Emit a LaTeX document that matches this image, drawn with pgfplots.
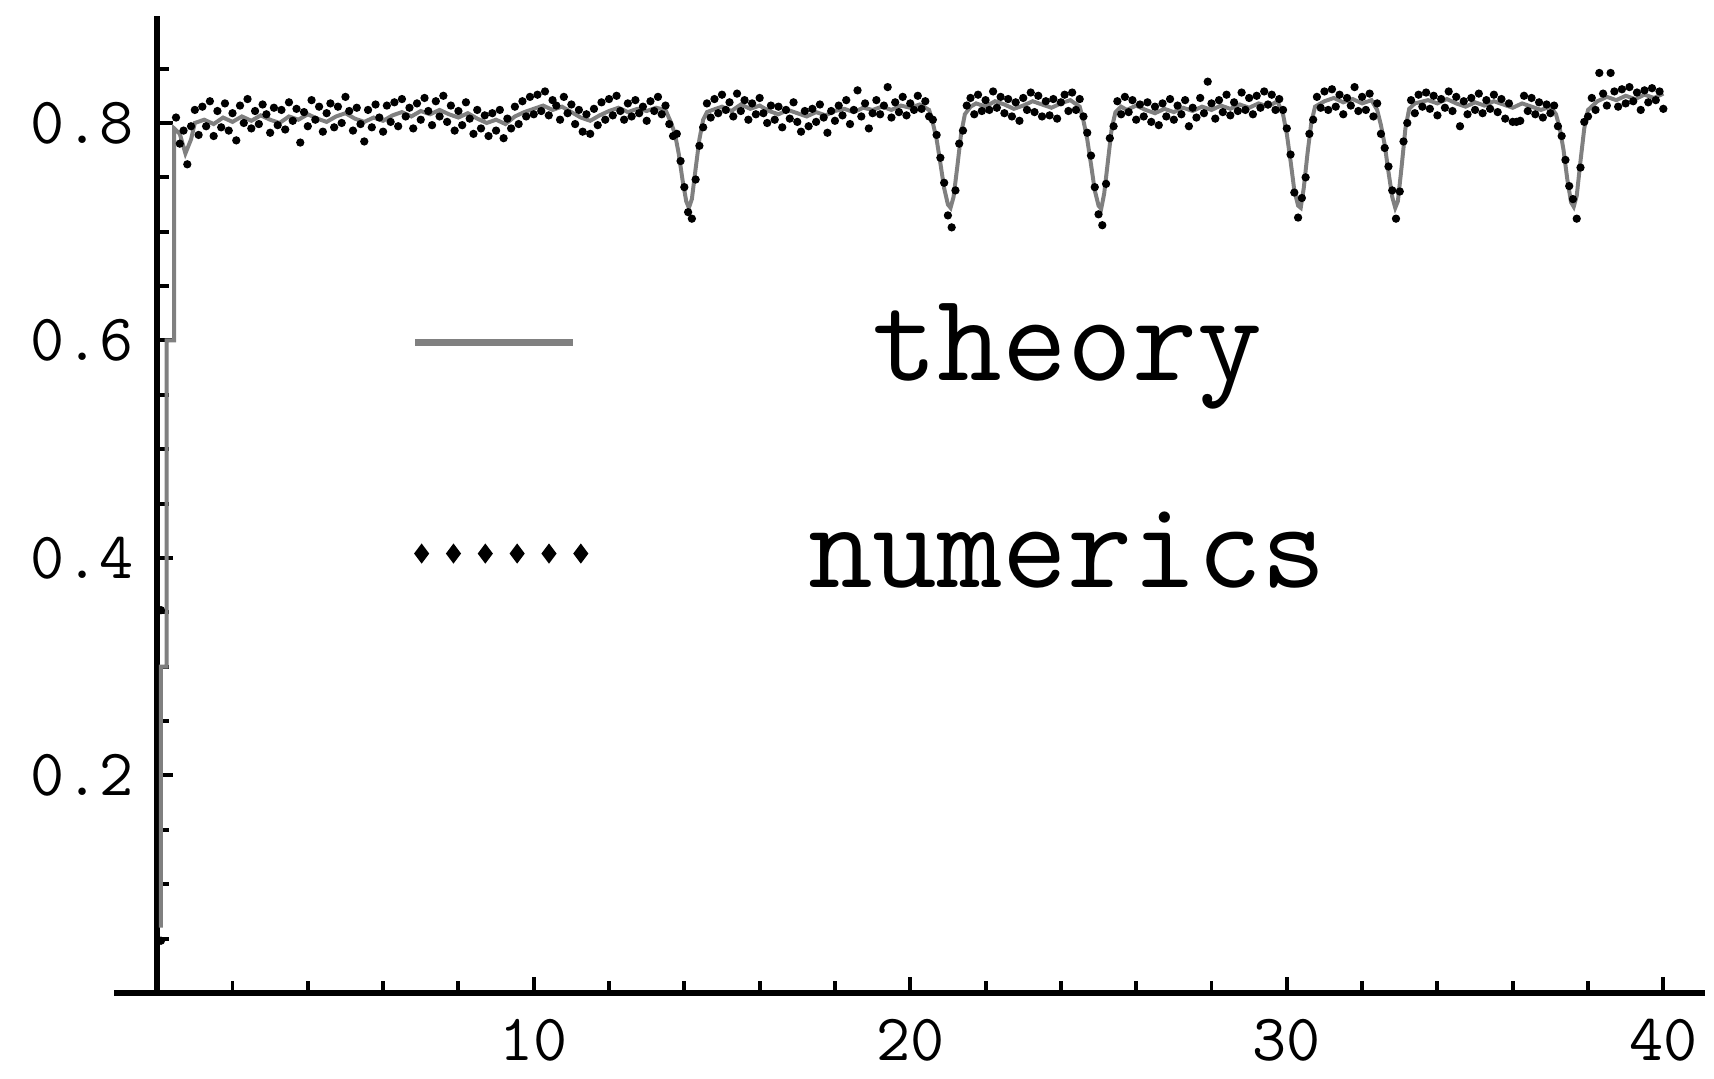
\documentclass[border=0pt]{standalone}
\usepackage{pgfplots}
\pgfplotsset{compat=1.18}

\begin{document}
\begin{tikzpicture}
\begin{axis}[
  at={(0pt,0pt)}, anchor=origin,
  scale only axis, width=319.8pt, height=196.3pt,
  xmin=-1.14, xmax=41.11, ymin=0, ymax=0.898,
  axis x line=bottom, axis y line=middle,
  axis line style={line width=1.1pt, -},
  tick align=inside,
  xtick={10,20,30,40}, xticklabels={10,20,30,40},
  minor xtick={2,4,6,8,12,14,16,18,22,24,26,28,32,34,36,38},
  ytick={0.2,0.4,0.6,0.8}, yticklabels={0.2,0.4,0.6,0.8},
  minor ytick={0.05,0.1,0.15,0.25,0.3,0.35,0.45,0.5,0.55,0.65,0.7,0.75,0.85},
  major tick length=3.2pt, minor tick length=2.4pt,
  every tick/.style={black, line width=0.8pt},
  tick label style={font=\fontsize{13.3}{16}\selectfont\ttfamily},
  xticklabel style={yshift=-1.8pt},
  yticklabel style={xshift=-1.3pt},
  legend style={at={(0.1865,0.5568)}, anchor=west, draw=none, fill=none,
    inner sep=0pt, row sep=21pt,
    font=\fontsize{25.3}{30}\selectfont\ttfamily,
    nodes={inner sep=2pt, text depth=0.15em}},
  legend cell align=center,
]
% exact solution
\addplot[black!50, line width=0.8pt,
  legend image code/.code={
    \path[draw=none, fill=none] (0pt,0pt) -- (77pt,0pt);
    \draw[black!50, line width=1.3pt] (0pt,0.6pt) -- (31.7pt,0.6pt);}]
table {
x y
0.10 0.060
0.10 0.300
0.25 0.300
0.25 0.600
0.45 0.600
0.45 0.795
0.60 0.790
0.75 0.772
0.90 0.785
1.00 0.800
1.25 0.803
1.50 0.799
1.75 0.805
2.00 0.801
2.25 0.806
2.50 0.802
2.75 0.807
3.00 0.803
3.25 0.800
3.50 0.806
3.75 0.803
4.00 0.808
4.25 0.804
4.50 0.801
4.75 0.806
5.00 0.809
5.25 0.804
5.50 0.801
5.75 0.805
6.00 0.802
6.25 0.807
6.50 0.810
6.75 0.806
7.00 0.811
7.25 0.808
7.50 0.812
7.75 0.808
8.00 0.805
8.25 0.809
8.50 0.804
8.75 0.800
9.00 0.803
9.25 0.799
9.50 0.806
9.75 0.810
10.00 0.813
10.25 0.816
10.50 0.812
10.75 0.815
11.00 0.810
11.25 0.805
11.50 0.802
11.75 0.807
12.00 0.811
12.25 0.814
12.50 0.810
12.75 0.813
13.00 0.811
13.25 0.814
13.50 0.812
13.65 0.800
13.75 0.790
13.85 0.772
13.95 0.748
14.05 0.728
14.12 0.722
14.20 0.730
14.30 0.758
14.40 0.785
14.50 0.803
14.60 0.810
14.75 0.812
15.00 0.815
15.25 0.811
15.50 0.817
15.75 0.813
16.00 0.816
16.25 0.811
16.50 0.808
16.75 0.812
17.00 0.809
17.25 0.806
17.50 0.810
17.75 0.807
18.00 0.811
18.25 0.813
18.50 0.810
18.75 0.814
19.00 0.812
19.25 0.815
19.50 0.812
19.75 0.816
20.00 0.814
20.25 0.817
20.50 0.812
20.60 0.800
20.70 0.785
20.80 0.763
20.90 0.740
21.00 0.725
21.07 0.722
21.15 0.732
21.25 0.760
21.35 0.790
21.45 0.808
21.60 0.815
21.75 0.818
22.00 0.815
22.25 0.820
22.50 0.817
22.75 0.813
23.00 0.816
23.25 0.820
23.50 0.817
23.75 0.814
24.00 0.818
24.25 0.821
24.50 0.815
24.60 0.802
24.70 0.785
24.80 0.762
24.90 0.738
25.00 0.724
25.07 0.721
25.15 0.735
25.25 0.765
25.35 0.795
25.45 0.810
25.60 0.815
25.75 0.812
26.00 0.816
26.25 0.812
26.50 0.809
26.75 0.813
27.00 0.810
27.25 0.814
27.50 0.811
27.75 0.815
28.00 0.812
28.25 0.816
28.50 0.813
28.75 0.817
29.00 0.814
29.25 0.818
29.50 0.815
29.75 0.820
29.90 0.808
30.00 0.790
30.10 0.765
30.20 0.738
30.30 0.724
30.37 0.722
30.45 0.740
30.55 0.772
30.65 0.800
30.75 0.815
31.00 0.820
31.25 0.823
31.50 0.819
31.75 0.822
32.00 0.818
32.25 0.821
32.40 0.812
32.50 0.798
32.60 0.780
32.70 0.755
32.80 0.732
32.88 0.722
32.95 0.728
33.05 0.760
33.15 0.795
33.25 0.813
33.40 0.818
33.75 0.821
34.00 0.818
34.25 0.822
34.50 0.818
34.75 0.815
35.00 0.819
35.25 0.816
35.50 0.820
35.75 0.817
36.00 0.814
36.25 0.818
36.50 0.815
36.75 0.812
37.00 0.815
37.15 0.808
37.25 0.795
37.35 0.775
37.45 0.748
37.55 0.727
37.62 0.723
37.70 0.733
37.80 0.765
37.90 0.795
38.00 0.812
38.25 0.820
38.50 0.824
38.75 0.821
39.00 0.825
39.25 0.822
39.50 0.826
39.75 0.823
40.00 0.827
};
\addlegendentry{theory}
% simulation samples
\addplot[only marks, mark=*, mark size=0.62pt, mark options={black, fill=black, draw=none},
  legend image code/.code={
    \path[draw=none, fill=none] (0pt,0pt) -- (77pt,0pt);
    \path plot[only marks, mark=diamond*, mark size=1.7pt, mark options={fill=black, draw=none}]
      coordinates {(1.3pt,0pt) (7.7pt,0pt) (14.1pt,0pt) (20.5pt,0pt) (26.9pt,0pt) (33.3pt,0pt)};}]
table {
x y
0.1 0.048
0.1 0.352
0.5 0.805
0.6 0.781
0.7 0.793
0.8 0.762
0.9 0.797
1.0 0.812
1.1 0.789
1.2 0.815
1.3 0.797
1.4 0.820
1.5 0.788
1.6 0.811
1.7 0.796
1.8 0.818
1.9 0.793
2.0 0.809
2.1 0.784
2.2 0.816
2.3 0.800
2.4 0.822
2.5 0.795
2.6 0.811
2.7 0.799
2.8 0.817
2.9 0.808
3.0 0.791
3.1 0.814
3.2 0.798
3.3 0.812
3.4 0.794
3.5 0.819
3.6 0.802
3.7 0.813
3.8 0.782
3.9 0.810
4.0 0.797
4.1 0.821
4.2 0.803
4.3 0.815
4.4 0.792
4.5 0.809
4.6 0.818
4.7 0.796
4.8 0.815
4.9 0.800
5.0 0.824
5.1 0.811
5.2 0.793
5.3 0.814
5.4 0.799
5.5 0.783
5.6 0.812
5.7 0.796
5.8 0.817
5.9 0.805
6.0 0.792
6.1 0.816
6.2 0.801
6.3 0.819
6.4 0.797
6.5 0.822
6.6 0.806
6.7 0.814
6.8 0.795
6.9 0.818
7.0 0.803
7.1 0.823
7.2 0.811
7.3 0.798
7.4 0.820
7.5 0.806
7.6 0.825
7.7 0.801
7.8 0.816
7.9 0.793
8.0 0.811
8.1 0.798
8.2 0.819
8.3 0.804
8.4 0.790
8.5 0.812
8.6 0.795
8.7 0.807
8.8 0.788
8.9 0.809
9.0 0.793
9.1 0.812
9.2 0.786
9.3 0.804
9.4 0.795
9.5 0.815
9.6 0.799
9.7 0.820
9.8 0.806
9.9 0.824
10.0 0.808
10.1 0.826
10.2 0.811
10.3 0.829
10.4 0.807
10.5 0.821
10.6 0.816
10.7 0.803
10.8 0.824
10.9 0.809
11.0 0.817
11.1 0.799
11.2 0.812
11.3 0.792
11.4 0.808
11.5 0.790
11.6 0.813
11.7 0.798
11.8 0.819
11.9 0.803
12.0 0.822
12.1 0.807
12.2 0.825
12.3 0.811
12.4 0.803
12.5 0.818
12.6 0.806
12.7 0.821
12.8 0.809
12.9 0.815
13.0 0.802
13.1 0.820
13.2 0.811
13.3 0.824
13.4 0.808
13.5 0.816
13.6 0.799
13.7 0.788
13.8 0.790
13.9 0.765
14.0 0.741
14.1 0.718
14.2 0.712
14.3 0.748
14.4 0.779
14.5 0.796
14.6 0.818
14.7 0.805
14.8 0.822
14.9 0.809
15.0 0.826
15.1 0.812
15.2 0.819
15.3 0.806
15.4 0.827
15.5 0.811
15.6 0.821
15.7 0.803
15.8 0.818
15.9 0.808
16.0 0.823
16.1 0.809
16.2 0.800
16.3 0.816
16.4 0.803
16.5 0.815
16.6 0.796
16.7 0.812
16.8 0.804
16.9 0.819
17.0 0.801
17.1 0.792
17.2 0.811
17.3 0.797
17.4 0.813
17.5 0.801
17.6 0.817
17.7 0.805
17.8 0.791
17.9 0.811
18.0 0.802
18.1 0.816
18.2 0.807
18.3 0.821
18.4 0.799
18.5 0.812
18.6 0.830
18.7 0.806
18.8 0.818
18.9 0.795
19.0 0.809
19.1 0.821
19.2 0.808
19.3 0.816
19.4 0.833
19.5 0.805
19.6 0.819
19.7 0.810
19.8 0.824
19.9 0.807
20.0 0.818
20.1 0.812
20.2 0.825
20.3 0.813
20.4 0.820
20.5 0.806
20.6 0.803
20.7 0.789
20.8 0.768
20.9 0.745
21.0 0.715
21.1 0.704
21.2 0.738
21.3 0.781
21.4 0.793
21.5 0.816
21.6 0.823
21.7 0.808
21.8 0.826
21.9 0.811
22.0 0.821
22.1 0.812
22.2 0.829
22.3 0.814
22.4 0.824
22.5 0.809
22.6 0.822
22.7 0.806
22.8 0.819
22.9 0.802
23.0 0.823
23.1 0.812
23.2 0.828
23.3 0.810
23.4 0.825
23.5 0.806
23.6 0.820
23.7 0.807
23.8 0.822
23.9 0.804
24.0 0.819
24.1 0.826
24.2 0.811
24.3 0.828
24.4 0.812
24.5 0.822
24.6 0.806
24.7 0.791
24.8 0.770
24.9 0.741
25.0 0.716
25.1 0.706
25.2 0.744
25.3 0.786
25.4 0.797
25.5 0.820
25.6 0.808
25.7 0.824
25.8 0.810
25.9 0.821
26.0 0.803
26.1 0.817
26.2 0.806
26.3 0.819
26.4 0.801
26.5 0.815
26.6 0.798
26.7 0.818
26.8 0.806
26.9 0.822
27.0 0.803
27.1 0.816
27.2 0.808
27.3 0.821
27.4 0.797
27.5 0.814
27.6 0.805
27.7 0.823
27.8 0.809
27.9 0.838
28.0 0.818
28.1 0.804
28.2 0.821
28.3 0.810
28.4 0.826
28.5 0.807
28.6 0.819
28.7 0.811
28.8 0.828
28.9 0.812
29.0 0.823
29.1 0.808
29.2 0.825
29.3 0.814
29.4 0.829
29.5 0.817
29.6 0.826
29.7 0.812
29.8 0.822
29.9 0.812
30.0 0.795
30.1 0.771
30.2 0.736
30.3 0.713
30.4 0.731
30.5 0.750
30.6 0.790
30.7 0.803
30.8 0.824
30.9 0.814
31.0 0.829
31.1 0.812
31.2 0.831
31.3 0.815
31.4 0.826
31.5 0.808
31.6 0.823
31.7 0.816
31.8 0.833
31.9 0.811
32.0 0.824
32.1 0.812
32.2 0.827
32.3 0.806
32.4 0.818
32.5 0.790
32.6 0.777
32.7 0.760
32.8 0.738
32.9 0.712
33.0 0.737
33.1 0.783
33.2 0.800
33.3 0.821
33.4 0.809
33.5 0.826
33.6 0.815
33.7 0.828
33.8 0.813
33.9 0.825
34.0 0.807
34.1 0.822
34.2 0.814
34.3 0.829
34.4 0.811
34.5 0.824
34.6 0.797
34.7 0.820
34.8 0.808
34.9 0.823
35.0 0.812
35.1 0.827
35.2 0.809
35.3 0.821
35.4 0.813
35.5 0.826
35.6 0.810
35.7 0.822
35.8 0.804
35.9 0.818
36.0 0.801
36.1 0.801
36.2 0.802
36.3 0.825
36.4 0.811
36.5 0.823
36.6 0.808
36.7 0.819
36.8 0.805
36.9 0.817
37.0 0.809
37.1 0.816
37.2 0.797
37.3 0.788
37.4 0.766
37.5 0.742
37.6 0.730
37.7 0.712
37.8 0.759
37.9 0.801
38.0 0.806
38.1 0.823
38.2 0.812
38.3 0.846
38.4 0.827
38.5 0.816
38.6 0.846
38.7 0.829
38.8 0.815
38.9 0.831
39.0 0.818
39.1 0.833
39.2 0.820
39.3 0.828
39.4 0.812
39.5 0.830
39.6 0.819
39.7 0.832
39.8 0.821
39.9 0.829
40.0 0.813
};
\addlegendentry{numerics}
\end{axis}
\path (-31.6pt,-16pt) rectangle (311.2pt,199.6pt);
\end{tikzpicture}
\end{document}
